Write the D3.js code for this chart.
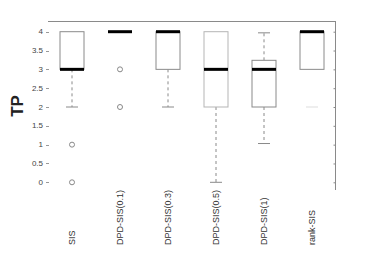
<!DOCTYPE html>
<html>
<head>
<meta charset="utf-8">
<script src="https://cdn.jsdelivr.net/npm/d3@7"></script>
<style>
  body { margin: 0; background: #fff; }
  text { font-family: "Liberation Sans", Arial, sans-serif; }
</style>
</head>
<body>
<div id="chart"></div>
<script>
// Data
const methods = ['SIS', 'DPD-SIS(0.1)', 'DPD-SIS(0.3)', 'DPD-SIS(0.5)', 'DPD-SIS(1)', 'rank-SIS'];
const lowWhisker = [2, 4, 2, 0, 1.03, 2];
const q1 = [3, 4, 3, 2, 2, 3];
const medians = [3, 4, 4, 3, 3, 4];
const q3 = [4, 4, 4, 4, 3.24, 4];
const highWhisker = [4, 4, 4, 4, 3.97, 4];
const outliers = [[1, 0], [3, 2], [], [], [], []];
const yTicks = [0, 0.5, 1, 1.5, 2, 2.5, 3, 3.5, 4];
const yTickLabels = ['0', '0.5', '1', '1.5', '2', '2.5', '3', '3.5', '4'];

const W = 371, H = 278;
const svg = d3.select('#chart').append('svg')
    .attr('width', W)
    .attr('height', H);

const x = d3.scaleBand()
    .domain(methods)
    .range([48, 336]);

const y = d3.scaleLinear()
    .domain([0, 4])
    .range([182.3, 31.7]);

const boxW = x.bandwidth() * 0.5;
const lineCol = '#8a8a8a';

// Frame: top and right lines
svg.append('line')
    .attr('x1', 48).attr('x2', 335.5)
    .attr('y1', 21.5).attr('y2', 21.5)
    .attr('stroke', lineCol);

const right = svg.append('g')
    .attr('transform', 'translate(335.5,0)')
    .call(d3.axisLeft(y).tickValues(yTicks).tickSize(2).tickFormat(''));
right.select('.domain').remove();
right.selectAll('line').attr('stroke', lineCol);
svg.append('line')
    .attr('x1', 335.5).attr('x2', 335.5)
    .attr('y1', 21).attr('y2', 190)
    .attr('stroke', lineCol);

// Left axis: short tick dashes and labels, no axis line
svg.selectAll('.ytick')
    .data(yTicks)
    .enter()
    .append('line')
    .attr('class', 'ytick')
    .attr('x1', 46).attr('x2', 49)
    .attr('y1', d => Math.round(y(d)) + 0.5)
    .attr('y2', d => Math.round(y(d)) + 0.5)
    .attr('stroke', '#999');

svg.selectAll('.ylab')
    .data(yTicks)
    .enter()
    .append('text')
    .attr('class', 'ylab')
    .attr('x', 43)
    .attr('y', d => y(d))
    .attr('dy', '0.33em')
    .attr('text-anchor', 'end')
    .style('font-size', '8px')
    .attr('fill', '#444')
    .text((d, i) => yTickLabels[i]);

// Y label
svg.append('text')
    .attr('transform', 'translate(23,106) rotate(-90)')
    .attr('text-anchor', 'middle')
    .style('font-size', '17px')
    .style('font-weight', 'bold')
    .attr('fill', '#222')
    .text('TP');

// Boxes
const boxes = svg.selectAll('.box')
    .data(methods)
    .enter()
    .append('g')
    .attr('class', 'box')
    .attr('transform', d => `translate(${x(d) + x.bandwidth() / 2},0)`);

boxes.each(function(d, i) {
    const g = d3.select(this);
    const rankSIS = d === 'rank-SIS';
    if (lowWhisker[i] < q1[i] && !rankSIS) {
        g.append('line')
            .attr('x1', 0).attr('x2', 0)
            .attr('y1', y(q1[i])).attr('y2', y(lowWhisker[i]))
            .attr('stroke', lineCol)
            .attr('stroke-dasharray', '3,3');
    }
    if (lowWhisker[i] < q1[i]) {
        g.append('line')
            .attr('x1', -boxW / 4).attr('x2', boxW / 4)
            .attr('y1', y(lowWhisker[i])).attr('y2', y(lowWhisker[i]))
            .attr('stroke', rankSIS ? '#ddd' : lineCol);
    }
    if (highWhisker[i] > q3[i]) {
        g.append('line')
            .attr('x1', 0).attr('x2', 0)
            .attr('y1', y(q3[i])).attr('y2', y(highWhisker[i]))
            .attr('stroke', lineCol)
            .attr('stroke-dasharray', '3,3');
        g.append('line')
            .attr('x1', -boxW / 4).attr('x2', boxW / 4)
            .attr('y1', y(highWhisker[i])).attr('y2', y(highWhisker[i]))
            .attr('stroke', lineCol);
    }
    if (q3[i] > q1[i]) {
        g.append('rect')
            .attr('x', -boxW / 2)
            .attr('y', y(q3[i]))
            .attr('width', boxW)
            .attr('height', y(q1[i]) - y(q3[i]))
            .attr('fill', '#fff')
            .attr('stroke', d === 'DPD-SIS(0.5)' ? '#b5b5b5' : lineCol);
    }
    g.append('line')
        .attr('x1', -boxW / 2).attr('x2', boxW / 2)
        .attr('y1', y(medians[i])).attr('y2', y(medians[i]))
        .attr('stroke', '#000')
        .attr('stroke-width', 3);
    outliers[i].forEach(v => {
        g.append('circle')
            .attr('cx', 0)
            .attr('cy', y(v))
            .attr('r', 2.5)
            .attr('fill', 'none')
            .attr('stroke', '#888');
    });
});

// Category labels (rotated)
svg.selectAll('.xlab')
    .data(methods)
    .enter()
    .append('text')
    .attr('class', 'xlab')
    .attr('transform', d => `translate(${x(d) + x.bandwidth() / 2 + 3},245) rotate(-90)`)
    .attr('text-anchor', 'start')
    .style('font-size', '9px')
    .attr('fill', '#333')
    .text(d => d);
</script>
</body>
</html>
